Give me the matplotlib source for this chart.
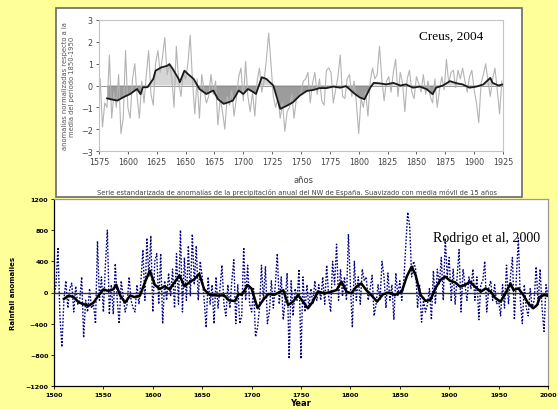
import numpy as np
import matplotlib
matplotlib.use("Agg")
import matplotlib.pyplot as plt
from matplotlib.patches import Rectangle

# ---------------- data: Creus, 2004 (top) ----------------
creus_start = 1576
creus_annual = [
    0.3, -1.9, -0.8, -1.0, 1.4, -1.5, -0.3, -1.0, 0.5, -2.2,
    -1.5, 1.6, -1.0, -1.5, 0.3, 1.0, -0.5, -1.5, 0.2, -0.8,
    0.5, 1.6, -0.4, -0.9, 1.0, 1.6, 0.6, 1.3, 2.2, 0.5,
    1.0, 0.4, -1.0, 1.8, 0.2, -0.5, 0.6, 0.3, 1.0, 2.3,
    0.2, -1.3, 0.3, -1.5, 0.5, -0.2, -0.8, -0.5, 0.5, -0.4,
    0.2, -1.8, -0.6, -1.2, -2.0, -0.5, -0.9, -0.2, -1.4, -0.6,
    0.4, 0.8, -0.7, 1.1, -0.5, -1.2, -0.3, -1.4, 0.2, 0.8,
    -0.3, 0.2, 1.2, 2.4, 1.0, -0.5, -1.0, -0.6, -1.5, -0.8,
    -2.1, -1.2, -1.0, -0.4, -1.5, -0.6, -0.5, -0.3, 0.2, 0.3,
    0.6, -0.8, 0.1, 0.6, -0.4, 0.3, -0.7, -0.9, 0.7, 0.8,
    0.6, -0.8, -0.2, 0.4, 1.4, -0.5, -0.6, 0.3, 0.5, -0.5,
    0.2, -0.8, -2.2, -0.6, -1.0, -0.3, -1.4, 0.2, 0.8, 0.3,
    0.5, 1.8, 0.3, -0.7, 0.2, 0.4, -0.3, 0.6, 1.2, -0.5,
    0.6, 0.1, -1.2, 0.3, 0.7, -0.3, -0.6, 0.4, 0.1, -0.3,
    0.5, -0.4, 0.2, -0.5, -0.8, 0.3, -1.0, -0.2, 0.4, -0.2,
    1.2, 0.1, 0.6, 0.7, -0.1, 0.7, 0.3, 0.8, 0.2, -0.3,
    0.4, 0.7, -0.2, -0.8, -1.7, 0.1, 0.5, 1.0, 0.2, -0.5,
    0.3, 0.8, -0.2, -1.3, 0.2,
]
creus_years = np.arange(creus_start, creus_start + 2 * len(creus_annual), 2)

creus_smooth_years = [
    1582, 1587, 1591, 1596, 1602, 1608, 1611, 1613, 1617, 1622,
    1624, 1629, 1634, 1636, 1639, 1644, 1645, 1649, 1652, 1657,
    1662, 1668, 1674, 1678, 1683, 1687, 1691, 1696, 1700, 1704,
    1709, 1711, 1716, 1720, 1726, 1732, 1738, 1743, 1749, 1755,
    1761, 1766, 1772, 1778, 1784, 1789, 1792, 1797, 1801, 1805,
    1810, 1813, 1818, 1824, 1830, 1836, 1841, 1847, 1853, 1859,
    1864, 1867, 1873, 1879, 1885, 1890, 1896, 1902, 1908, 1914,
    1916, 1921, 1925,
]
creus_smooth = [
    -0.59, -0.65, -0.69, -0.54, -0.39, -0.16, -0.4, -0.08, -0.08, 0.3,
    0.68, 0.83, 0.9, 0.98, 0.75, 0.3, 0.15, 0.68, 0.53, 0.3,
    -0.16, -0.39, -0.23, -0.62, -0.84, -0.77, -0.69, -0.23, -0.39, -0.16,
    -0.31, -0.39, 0.38, 0.3, 0.0, -1.07, -0.92, -0.77, -0.46, -0.25,
    -0.2, -0.12, -0.12, -0.05, -0.1, -0.03, -0.17, -0.4, -0.55, -0.63,
    -0.1, 0.12, 0.1, 0.05, 0.12, 0.0, 0.05, -0.1, -0.05, -0.17,
    -0.4, -0.1, 0.0, 0.2, 0.1, 0.05, -0.1, -0.05, 0.05, 0.35,
    0.12, 0.0, 0.05,
]
creus_xticks = list(range(1575, 1926, 25))
creus_yticks = [-3, -2, -1, 0, 1, 2, 3]

# ---------------- data: Rodrigo et al, 2000 (bottom) ----------------
rod_start = 1500
rod_annual = [
    -50, 100, 580, -300, -700,
    -100, 150, -200, 50, 120,
    -250, 80, -150, -100, 200,
    -580, -100, -250, 50, -200,
    -150, -400, 660, -100, 200,
    -250, 350, 800, -280, 100,
    -280, 370, -100, -400, 150,
    -50, -250, -150, 200, -100,
    -200, -250, 100, -150, 150,
    550, -100, 700, 200, 730,
    -250, 400, 500, -150, 500,
    -400, 150, -100, 250, -50,
    300, -200, 500, -150, 800,
    -250, 450, -100, 600, -50,
    750, 100, 600, -100, 400,
    200, -100, -450, 200, -150,
    100, -400, 200, -200, 50,
    350, -150, -300, 100, -200,
    150, 420, -400, 100, -400,
    -300, 580, -100, 350, -150,
    -250, 50, -570, -450, -200,
    350, -100, 330, -400, -250,
    150, -200, 100, 500, -150,
    200, -350, -100, 250, -850,
    150, -300, 50, -100, 300,
    -850, 200, -250, 100, -200,
    50, -150, 150, -100, 100,
    -100, 200, -150, 350, -50,
    -250, 400, 100, 620, -100,
    300, -50, 200, -100, 750,
    100, -450, 400, -100, 200,
    -150, 300, 150, 200, -100,
    50, 220, -300, -150, 100,
    -100, 400, 200, -200, 250,
    -100, 100, -350, 250, -50,
    150, -100, 150, 600, 1030,
    850, 200, 400, 300, -200,
    100, -380, -100, -250, -150,
    50, -350, 280, -150, 300,
    100, 450, -100, 700, 200,
    450, -100, 300, -150, 200,
    550, -250, 300, 100, -100,
    200, 50, 300, -100, 200,
    -350, 100, 150, 400, -250,
    50, 150, -100, 100, -150,
    -100, -300, 100, -200, 350,
    -150, 200, 450, -350, 200,
    700, -100, -400, 100, -200,
    -300, 50, -200, -100, 330,
    -150, 300, -200, -500, 100,
    -50,
]
rod_years = np.arange(rod_start, rod_start + 2 * len(rod_annual), 2)

rod_smooth_years = [
    1510, 1515, 1520, 1525, 1530, 1535, 1540, 1545, 1550, 1555,
    1560, 1563, 1567, 1572, 1577, 1582, 1587, 1592, 1597, 1602,
    1607, 1612, 1617, 1622, 1627, 1632, 1637, 1642, 1647, 1652,
    1657, 1662, 1667, 1672, 1677, 1683, 1687, 1690, 1696, 1700,
    1706, 1712, 1717, 1723, 1732, 1737, 1742, 1747, 1752, 1757,
    1762, 1767, 1774, 1781, 1786, 1791, 1796, 1801, 1806, 1811,
    1816, 1821, 1827, 1833, 1839, 1845, 1852, 1857, 1862, 1866,
    1871, 1876, 1881, 1886, 1891, 1896, 1901, 1906, 1911, 1916,
    1921, 1926, 1932, 1937, 1942, 1947, 1952, 1957, 1962, 1965,
    1970, 1975, 1980, 1985, 1989, 1992, 1996, 1999,
]
rod_smooth = [
    -83, -40, -60, -126, -150, -170, -130, -40, 40, 20,
    40, 100, -40, -130, -40, -60, -40, 130, 280, 100,
    45, 80, 40, 130, 220, 80, 130, 170, 240, 40,
    -25, -35, -40, -35, -100, -110, -20, -30, 95, 50,
    -200, -90, -20, -30, 30, -160, -117, -32, -117, -203,
    -117, 11, -11, 11, 32, 139, 11, -11, 75, 117,
    32, -32, -117, -23, 0, -32, 11, 203, 331, 224,
    -32, -107, -96, 53, 160, 203, 150, 130, 75, 96,
    139, 75, 11, 53, 11, -75, -117, -11, 117, 32,
    53, -32, -139, -203, -160, -53, -32, -40,
]
rod_xticks = list(range(1500, 2001, 50))
rod_yticks = [-1200, -800, -400, 0, 400, 800, 1200]

# ---------------- figure ----------------
W, H = 558, 410
fig = plt.figure(figsize=(W / 100, H / 100), dpi=100)
fig.patch.set_facecolor("#FFFF99")


def fx(px):
    return px / W


def fy(py):
    return 1 - py / H


# white panel of top chart (drawn below the axes)
panel = Rectangle((fx(56), fy(198)), fx(522) - fx(56), fy(9) - fy(198),
                  transform=fig.transFigure, facecolor="white",
                  edgecolor="#6a6a6a", linewidth=1.2, zorder=-10)
fig.add_artist(panel)

# ---- top axes ----
ax1 = fig.add_axes([fx(99), fy(152), fx(503) - fx(99), fy(21) - fy(152)])
ax1.set_zorder(1)
ax1.set_facecolor("white")
cs_x = np.array(creus_smooth_years, dtype=float)
cs_y = np.array(creus_smooth, dtype=float)
ax1.fill_between(cs_x, cs_y, 0, where=cs_y >= 0, interpolate=True,
                 facecolor="#d6d6d6", edgecolor="none", zorder=1)
ax1.fill_between(cs_x, cs_y, 0, where=cs_y <= 0, interpolate=True,
                 facecolor="#9c9c9c", edgecolor="none", zorder=1)
ax1.plot(creus_years, creus_annual, color="#b4b4b4", lw=0.8, zorder=2)
ax1.plot(cs_x, cs_y, color="#1a1a1a", lw=1.3, zorder=3)
ax1.axhline(0, color="#8a8a8a", lw=0.6, zorder=1)
ax1.set_xlim(1575, 1925)
ax1.set_ylim(-3, 3)
ax1.set_xticks(creus_xticks)
ax1.set_yticks(creus_yticks)
ax1.tick_params(labelsize=5.8, colors="#444444", length=2.5, width=0.6, pad=2)
for s in ax1.spines.values():
    s.set_color("#c4c4c4")
    s.set_linewidth(0.8)
ax1.set_ylabel("anomalías normalizadas respecto a la\nmedia del período 1850-1950",
               fontsize=4.9, color="#555555", labelpad=4, linespacing=1.1)
ax1.text(0.95, 0.88, "Creus, 2004", transform=ax1.transAxes, ha="right", va="center",
         fontsize=9.5, family="Liberation Serif", color="black")
fig.text(fx(303), fy(181), "años", ha="center", va="center", fontsize=6, color="#444444")
fig.text(fx(297), fy(193),
         "Serie estandarizada de anomalías de la precipitación anual del NW de España. "
         "Suavizado con media móvil de 15 años",
         ha="center", va="center", fontsize=4.9, color="#444444")

# ---- bottom axes ----
ax2 = fig.add_axes([fx(54), fy(387), fx(548) - fx(54), fy(200) - fy(387)])
ax2.set_zorder(2)
ax2.set_facecolor("white")
ax2.plot(rod_years, rod_annual, color="#000080", lw=1.0, ls=(0, (1.2, 1.2)),
         zorder=2)
ax2.axhline(0, color="#333333", lw=1.0, zorder=3)
ax2.plot(rod_smooth_years, rod_smooth, color="black", lw=1.8, zorder=4)
ax2.set_xlim(1500, 2000)
ax2.set_ylim(-1200, 1200)
ax2.set_xticks(rod_xticks)
ax2.set_yticks(rod_yticks)
ax2.tick_params(labelsize=4.6, colors="black", length=2, width=0.6, pad=2)
for lab in ax2.get_xticklabels() + ax2.get_yticklabels():
    lab.set_fontweight("bold")
ax2.spines["left"].set_color("black")
ax2.spines["bottom"].set_color("black")
ax2.spines["top"].set_color("#9a9a9a")
ax2.spines["right"].set_color("#9a9a9a")
for s in ax2.spines.values():
    s.set_linewidth(0.9)
ax2.set_ylabel("Rainfall anomalies", fontsize=5, fontweight="bold", labelpad=7)
ax2.set_xlabel("Year", fontsize=6, fontweight="bold", labelpad=1)
ax2.text(0.985, 0.795, "Rodrigo et al, 2000", transform=ax2.transAxes, ha="right",
         va="center", fontsize=10, family="Liberation Serif", color="black", zorder=5)

fig.savefig("out.png", dpi=100, facecolor=fig.get_facecolor())
